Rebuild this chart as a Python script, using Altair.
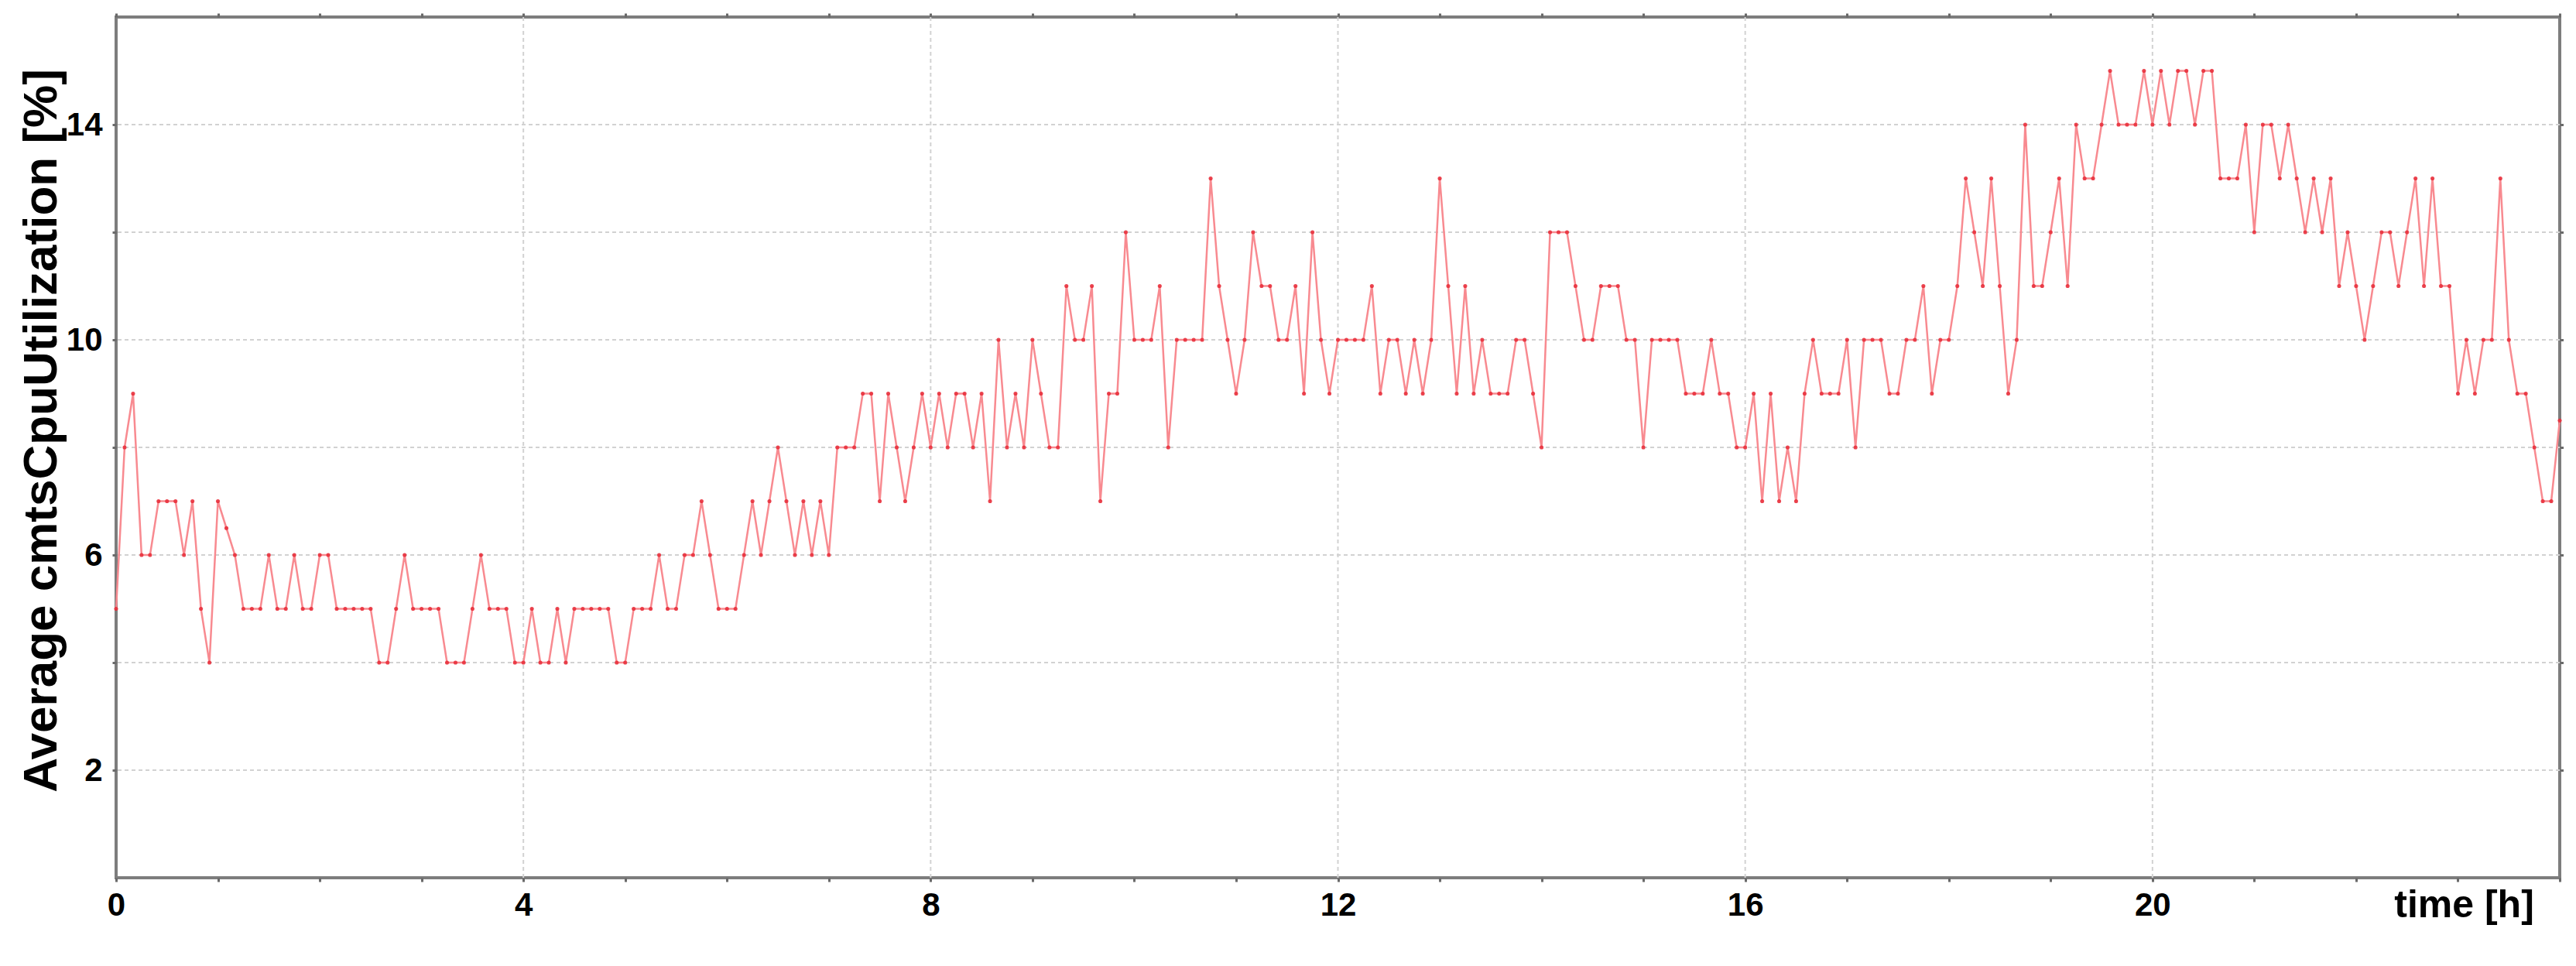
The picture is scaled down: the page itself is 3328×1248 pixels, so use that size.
import altair as alt
import pandas as pd

# Average cmtsCpuUtilization [%], one sample every 5 minutes
CPU = [
    5, 8, 9, 6, 6, 7, 7, 7, 6, 7, 5, 4,
    7, 6.5, 6, 5, 5, 5, 6, 5, 5, 6, 5, 5,
    6, 6, 5, 5, 5, 5, 5, 4, 4, 5, 6, 5,
    5, 5, 5, 4, 4, 4, 5, 6, 5, 5, 5, 4,
    4, 5, 4, 4, 5, 4, 5, 5, 5, 5, 5, 4,
    4, 5, 5, 5, 6, 5, 5, 6, 6, 7, 6, 5,
    5, 5, 6, 7, 6, 7, 8, 7, 6, 7, 6, 7,
    6, 8, 8, 8, 9, 9, 7, 9, 8, 7, 8, 9,
    8, 9, 8, 9, 9, 8, 9, 7, 10, 8, 9, 8,
    10, 9, 8, 8, 11, 10, 10, 11, 7, 9, 9, 12,
    10, 10, 10, 11, 8, 10, 10, 10, 10, 13, 11, 10,
    9, 10, 12, 11, 11, 10, 10, 11, 9, 12, 10, 9,
    10, 10, 10, 10, 11, 9, 10, 10, 9, 10, 9, 10,
    13, 11, 9, 11, 9, 10, 9, 9, 9, 10, 10, 9,
    8, 12, 12, 12, 11, 10, 10, 11, 11, 11, 10, 10,
    8, 10, 10, 10, 10, 9, 9, 9, 10, 9, 9, 8,
    8, 9, 7, 9, 7, 8, 7, 9, 10, 9, 9, 9,
    10, 8, 10, 10, 10, 9, 9, 10, 10, 11, 9, 10,
    10, 11, 13, 12, 11, 13, 11, 9, 10, 14, 11, 11,
    12, 13, 11, 14, 13, 13, 14, 15, 14, 14, 14, 15,
    14, 15, 14, 15, 15, 14, 15, 15, 13, 13, 13, 14,
    12, 14, 14, 13, 14, 13, 12, 13, 12, 13, 11, 12,
    11, 10, 11, 12, 12, 11, 12, 13, 11, 13, 11, 11,
    9, 10, 9, 10, 10, 13, 10, 9, 9, 8, 7, 7,
    8.5,
]
STEP_H = 5 / 60
TIME_H = [i * STEP_H for i in range(len(CPU))]

X_DOMAIN = [0, 24]
Y_DOMAIN = [0, 16]
X_GRID = [4, 8, 12, 16, 20]
Y_GRID = [2, 4, 6, 8, 10, 12, 14]
X_TICKS = list(range(0, 25))
Y_TICKS = [2, 4, 6, 8, 10, 12, 14]

FONT = "Liberation Sans"
W, H = 3157, 1112

df = pd.DataFrame({"t": TIME_H, "v": CPU})
xs = alt.Scale(domain=X_DOMAIN, nice=False, zero=False)
ys = alt.Scale(domain=Y_DOMAIN, nice=False, zero=False)

grid_x = alt.Chart(pd.DataFrame({"g": X_GRID})).mark_rule(
    color="#d2d2d2", strokeWidth=2, strokeDash=[5, 4]
).encode(x=alt.X("g:Q", scale=xs, axis=None))

grid_y = alt.Chart(pd.DataFrame({"g": Y_GRID})).mark_rule(
    color="#d2d2d2", strokeWidth=2, strokeDash=[5, 4]
).encode(y=alt.Y("g:Q", scale=ys, axis=None))

line = alt.Chart(df).mark_line(color="#f88a90", strokeWidth=2.5).encode(
    x=alt.X(
        "t:Q", scale=xs,
        axis=alt.Axis(
            orient="bottom", values=X_TICKS,
            labelExpr="(datum.value % 4 == 0 && datum.value < 24) ? datum.label : ''",
            labelFontSize=42, labelPadding=10, tickSize=5, labelFlush=False,
            title="time [h]", titleFontSize=50, titleX=3033, titleY=35,
            titleAlign="center", titleBaseline="middle",
        ),
    ),
    y=alt.Y(
        "v:Q", scale=ys,
        axis=alt.Axis(
            orient="left", values=Y_TICKS,
            labelExpr="((datum.value - 2) % 4 == 0) ? datum.label : ''",
            labelFontSize=42, labelPadding=13, tickSize=5,
            title="Average cmtsCpuUtilization [%]", titleFontSize=62,
            titleX=-97, titleY=534, titleAngle=270,
            titleAlign="center", titleBaseline="middle",
        ),
    ),
)

pts = alt.Chart(df).mark_point(
    filled=True, shape="circle", size=26, color="#e8303c", opacity=0.9
).encode(
    x=alt.X("t:Q", scale=xs, axis=None),
    y=alt.Y("v:Q", scale=ys, axis=None),
)

frame = alt.Chart(df).mark_point(opacity=0).encode(
    x=alt.X("t:Q", scale=xs, axis=alt.Axis(
        orient="top", values=X_TICKS, labels=False, title="", tickSize=5)),
    y=alt.Y("v:Q", scale=ys, axis=alt.Axis(
        orient="right", values=Y_TICKS, labels=False, title="", tickSize=5)),
)

chart = (
    alt.layer(grid_x, grid_y, line, pts, frame)
    .resolve_axis(x="independent", y="independent")
    .properties(
        width=W, height=H,
        padding={"left": 142, "top": 14, "right": 5, "bottom": 90},
        autosize=alt.AutoSizeParams(type="none"),
        background="white",
    )
    .configure_view(stroke="#7d7d7d", strokeWidth=4)
    .configure_axis(
        labelFont=FONT, labelFontWeight="bold", labelColor="#000000",
        titleFont=FONT, titleFontWeight="bold", titleColor="#000000",
        domain=False, grid=False, tickColor="#6a6a6a", tickWidth=3,
    )
)

chart.save("out.html", embed_options={"renderer": "svg", "actions": False})
